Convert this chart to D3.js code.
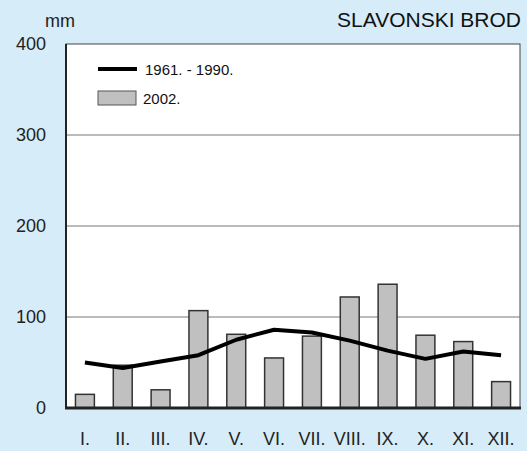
<!DOCTYPE html>
<html><head><meta charset="utf-8">
<script src="https://cdn.jsdelivr.net/npm/d3@7"></script>
<style>
html,body{margin:0;padding:0;background:#d6ecf8;}
svg{display:block;font-family:"Liberation Sans",Arial,sans-serif;}
</style></head>
<body>
<svg id="c" width="527" height="451"></svg>
<script>
const months = ["I.","II.","III.","IV.","V.","VI.","VII.","VIII.","IX.","X.","XI.","XII."];
const values2002 = [15, 47, 20, 107, 81, 55, 79, 122, 136, 80, 73, 29];
const normal6190 = [50, 44, 51, 58, 75, 86, 83, 74, 63, 54, 62, 58];
const yTicks = [0, 100, 200, 300, 400];
const seriesNames = ["1961. - 1990.", "2002."];
const title = "SLAVONSKI BROD";
const unit = "mm";

const svg = d3.select("#c");
const L = 66, R = 520, T = 44, B = 408;

svg.append("rect").attr("width",527).attr("height",451).attr("fill","#d6ecf8");
svg.append("rect").attr("x",L).attr("y",T).attr("width",R-L).attr("height",B-T)
  .attr("fill","#fff").attr("stroke","#444").attr("stroke-width",1);

const x = d3.scaleBand().domain(months).range([L,R]).paddingInner(0.5).paddingOuter(0.25);
const y = d3.scaleLinear().domain([0,400]).range([B,T]);

// gridlines
svg.append("g").selectAll("line").data(yTicks.filter(d=>d>0 && d<400)).join("line")
  .attr("x1",L).attr("x2",R).attr("y1",d=>y(d)).attr("y2",d=>y(d))
  .attr("stroke","#777").attr("stroke-width",1);

// y axis labels
const yAxis = d3.axisLeft(y).tickValues(yTicks).tickSize(0).tickPadding(20);
const ga = svg.append("g").attr("transform",`translate(${L},0)`).call(yAxis);
ga.select(".domain").remove();
ga.selectAll("text").attr("font-size",18).attr("fill","#222").attr("font-family","Liberation Sans, Arial, sans-serif");

// x axis labels
const xAxis = d3.axisBottom(x).tickSize(0).tickPadding(24);
const gx = svg.append("g").attr("transform",`translate(0,${B})`).call(xAxis);
gx.select(".domain").remove();
gx.selectAll("text").attr("font-size",18).attr("fill","#222").attr("font-family","Liberation Sans, Arial, sans-serif");

// bars
svg.append("g").selectAll("rect").data(values2002).join("rect")
  .attr("x",(d,i)=>x(months[i]))
  .attr("y",d=>y(d))
  .attr("width",x.bandwidth())
  .attr("height",d=>B-y(d))
  .attr("fill","#c0c0c0").attr("stroke","#333").attr("stroke-width",1.5);

// line
const line = d3.line()
  .x((d,i)=>x(months[i])+x.bandwidth()/2)
  .y(d=>y(d))
  .curve(d3.curveLinear);
svg.append("path").datum(normal6190).attr("d",line)
  .attr("fill","none").attr("stroke","#000").attr("stroke-width",4)
  .attr("stroke-linejoin","round");

// axes lines
svg.append("line").attr("x1",L).attr("x2",L).attr("y1",T).attr("y2",B)
  .attr("stroke","#222").attr("stroke-width",2);
svg.append("line").attr("x1",L-1).attr("x2",R+1).attr("y1",B).attr("y2",B)
  .attr("stroke","#222").attr("stroke-width",3);

// legend
const lg = svg.append("g");
lg.append("line").attr("x1",98).attr("x2",137).attr("y1",69).attr("y2",69)
  .attr("stroke","#000").attr("stroke-width",4);
lg.append("text").attr("x",145).attr("y",74.5).attr("font-size",15).attr("fill","#111").text(seriesNames[0]);
lg.append("rect").attr("x",98).attr("y",91).attr("width",38).attr("height",14)
  .attr("fill","#c0c0c0").attr("stroke","#555").attr("stroke-width",1);
lg.append("text").attr("x",143).attr("y",103.5).attr("font-size",15).attr("fill","#111").text(seriesNames[1]);

// titles
svg.append("text").attr("x",75).attr("y",27).attr("text-anchor","end").attr("font-size",18).attr("fill","#222").text(unit);
svg.append("text").attr("x",521).attr("y",27).attr("text-anchor","end").attr("font-size",21).attr("fill","#111").text(title);
</script>
</body></html>
